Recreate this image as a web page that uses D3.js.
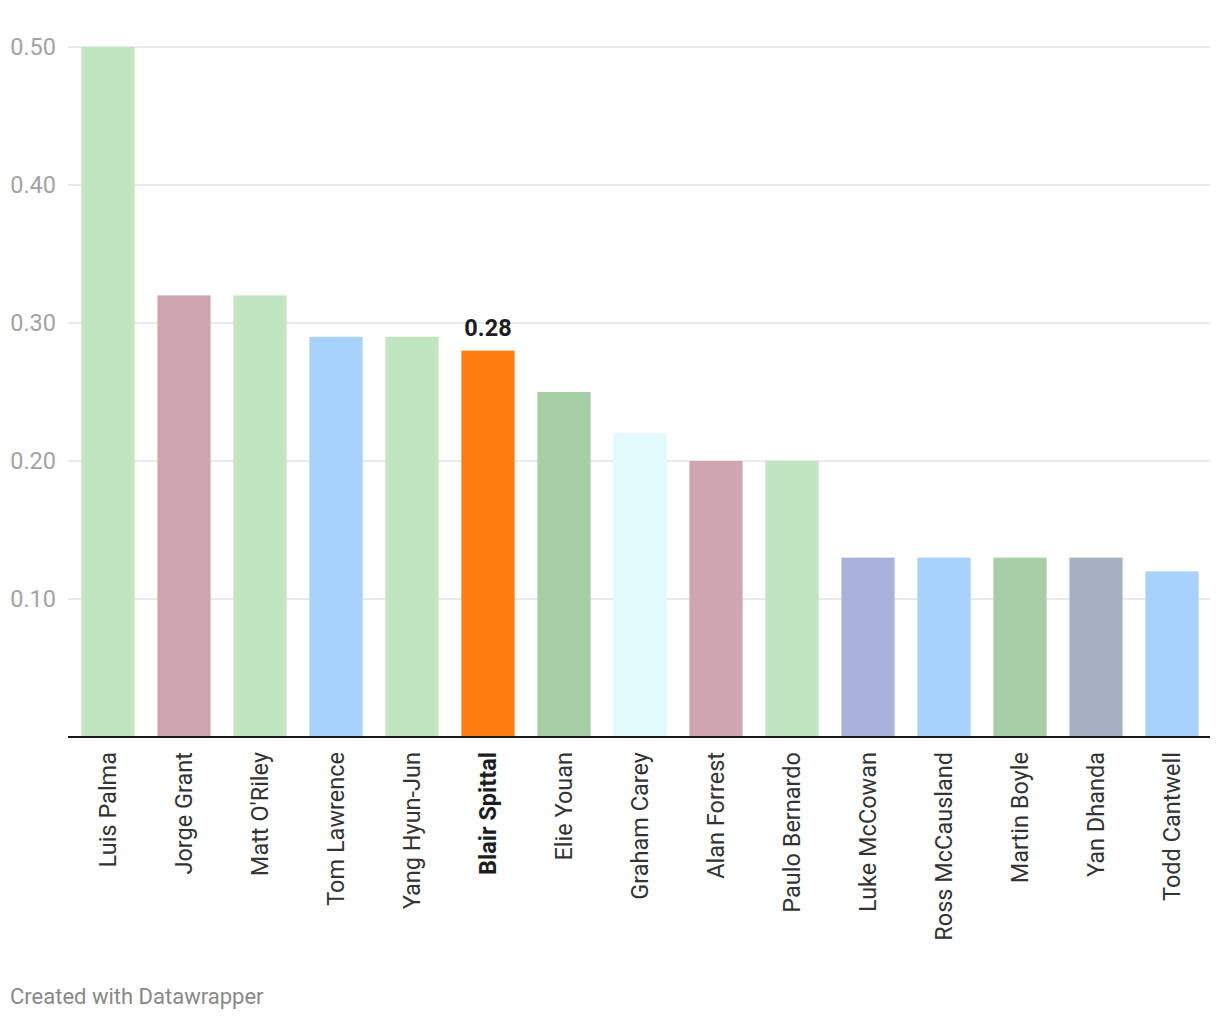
<!DOCTYPE html>
<html>
<head>
<meta charset="utf-8">
<script src="https://cdn.jsdelivr.net/npm/d3@7"></script>
<style>
  html, body { margin: 0; padding: 0; background: #fff; }
  svg { display: block; font-family: Roboto, "Noto Sans", sans-serif; }
</style>
</head>
<body>
<svg id="chart" width="1220" height="1020"></svg>
<script>
const players = ["Luis Palma","Jorge Grant","Matt O'Riley","Tom Lawrence","Yang Hyun-Jun","Blair Spittal","Elie Youan","Graham Carey","Alan Forrest","Paulo Bernardo","Luke McCowan","Ross McCausland","Martin Boyle","Yan Dhanda","Todd Cantwell"];
const values = [0.50,0.32,0.32,0.29,0.29,0.28,0.25,0.22,0.20,0.20,0.13,0.13,0.13,0.13,0.12];
const barColors = ["#c0e5bf","#cfa5b0","#c0e5bf","#a7d2fd","#c0e5bf","#fd7f10","#a7cfa6","#e3fafd","#cfa5b0","#c0e5bf","#a8b2dd","#a7d2fd","#a7cfa6","#a7b0c0","#a7d2fd"];
const yTicks = [0.10,0.20,0.30,0.40,0.50];
const highlight = "Blair Spittal";

const svg = d3.select("#chart");
const plotLeft = 68, plotRight = 1210, plotTop = 47, plotBottom = 737;

const x = d3.scaleBand().domain(players).range([70, 1210]).paddingInner(0.3).paddingOuter(0.15);
const y = d3.scaleLinear().domain([0, 0.5]).range([plotBottom, plotTop]);

// gridlines
svg.append("g").selectAll("line").data(yTicks).join("line")
  .attr("x1", plotLeft).attr("x2", plotRight)
  .attr("y1", d => y(d)).attr("y2", d => y(d))
  .attr("stroke", "#e3e3e3").attr("stroke-width", 1.5);

// y labels
svg.append("g").selectAll("text").data(yTicks).join("text")
  .attr("x", 56).attr("y", d => y(d)).attr("dy", "0.35em")
  .attr("text-anchor", "end")
  .attr("fill", "#a3a3a3").attr("font-size", 23.5)
  .text(d => d3.format(".2f")(d));

// bars
svg.append("g").selectAll("rect").data(players).join("rect")
  .attr("x", d => x(d)).attr("width", x.bandwidth())
  .attr("y", (d, i) => y(values[i]))
  .attr("height", (d, i) => y(0) - y(values[i]))
  .attr("fill", (d, i) => barColors[i]);

// baseline
svg.append("line").attr("x1", plotLeft).attr("x2", plotRight)
  .attr("y1", plotBottom).attr("y2", plotBottom)
  .attr("stroke", "#1a1a1a").attr("stroke-width", 2);

// value label for highlight
const hi = players.indexOf(highlight);
svg.append("text")
  .attr("x", x(highlight) + x.bandwidth() / 2)
  .attr("y", y(values[hi]) - 23)
  .attr("text-anchor", "middle").attr("dy", "0.35em")
  .attr("font-size", 23.5).attr("font-weight", "bold").attr("fill", "#1d1d1d")
  .text(d3.format(".2f")(values[hi]));

// x labels
svg.append("g").selectAll("text").data(players).join("text")
  .attr("transform", d => `translate(${x(d) + x.bandwidth() / 2},752) rotate(-90)`)
  .attr("text-anchor", "end").attr("dy", "0.35em")
  .attr("font-size", 23.5)
  .attr("font-weight", d => d === highlight ? "bold" : "normal")
  .attr("fill", d => d === highlight ? "#1d1d1d" : "#333")
  .text(d => d);

// footer
svg.append("text").attr("x", 10).attr("y", 1004)
  .attr("font-size", 22).attr("fill", "#888")
  .text("Created with Datawrapper");
</script>
</body>
</html>
